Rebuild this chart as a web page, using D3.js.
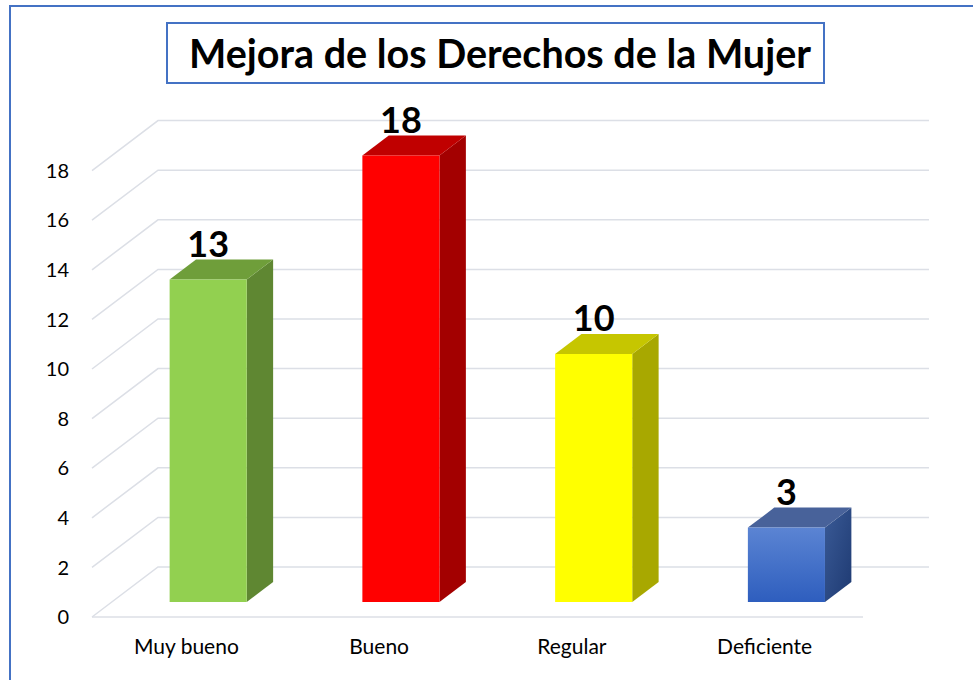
<!DOCTYPE html>
<html>
<head>
<meta charset="utf-8">
<script src="https://cdn.jsdelivr.net/npm/d3@7"></script>
<style>
  body { margin: 0; background: #fff; }
  svg { display: block; font-family: Lato, "Open Sans", sans-serif; }
</style>
</head>
<body>
<div id="chart"></div>
<script>
const categories = ["Muy bueno", "Bueno", "Regular", "Deficiente"];
const values = [13, 18, 10, 3];
const yTicks = [0, 2, 4, 6, 8, 10, 12, 14, 16, 18];
const titleText = "Mejora de los Derechos de la Mujer";

// front, side, top colours per bar
const faceColors = [
  {front: "#92D050", side: "#5F8732", top: "#6F9E3A"},
  {front: "#FF0000", side: "#A30000", top: "#C00000"},
  {front: "#FFFF00", side: "#A8A800", top: "#C6C600"},
  {front: "url(#blueFront)", side: "url(#blueSide)", top: "#48629A"}
];

const width = 973, height = 680;
const depthX = 66, depthY = 50;      // floor depth offsets
const barD0 = 0.3, barD1 = 0.7;      // bar depth span

const svg = d3.select("#chart").append("svg")
  .attr("width", width).attr("height", height);

const defs = svg.append("defs");
let g1 = defs.append("linearGradient").attr("id", "blueFront")
  .attr("x1", 0).attr("y1", 0).attr("x2", 0).attr("y2", 1);
g1.append("stop").attr("offset", "0%").attr("stop-color", "#5B84D3");
g1.append("stop").attr("offset", "100%").attr("stop-color", "#2E5EBE");
let g2 = defs.append("linearGradient").attr("id", "blueSide")
  .attr("x1", 0).attr("y1", 0).attr("x2", 1).attr("y2", 1);
g2.append("stop").attr("offset", "0%").attr("stop-color", "#3A5A96");
g2.append("stop").attr("offset", "100%").attr("stop-color", "#1E3A72");

// outer frame
svg.append("rect")
  .attr("x", 10).attr("y", 6)
  .attr("width", width + 20).attr("height", height + 20)
  .attr("fill", "none").attr("stroke", "#4472C4").attr("stroke-width", 2);

// title box
svg.append("rect")
  .attr("x", 167).attr("y", 23).attr("width", 657).attr("height", 60)
  .attr("fill", "#fff").attr("stroke", "#4472C4").attr("stroke-width", 2);
svg.append("text")
  .attr("x", 500).attr("y", 68)
  .attr("text-anchor", "middle")
  .style("font-size", "39.5px").style("font-weight", "bold")
  .attr("fill", "#000")
  .text(titleText);

const x = d3.scaleBand().domain(categories).range([92, 863]).padding(0);
const y = d3.scaleLinear().domain([0, 18]).range([617, 170.6]);

const proj = (px, py, d) => [px + d * depthX, py - d * depthY];
const backRight = 929;

// gridlines: left wall diagonal + back wall horizontal
const grid = svg.append("g").attr("class", "grid")
  .attr("fill", "none").attr("stroke", "#DCDFE6").attr("stroke-width", 1.5);
yTicks.forEach(v => {
  const p0 = [92, y(v)];
  const p1 = proj(92, y(v), 1);
  grid.append("path")
    .attr("d", d3.line()([p0, p1, [backRight, p1[1]]]));
});
// floor front edge
grid.append("line")
  .attr("x1", 92).attr("y1", y(0)).attr("x2", 863).attr("y2", y(0));

// y axis labels
svg.append("g").selectAll("text").data(yTicks).join("text")
  .attr("x", 69).attr("y", d => y(d))
  .attr("dy", "0.36em")
  .attr("text-anchor", "end")
  .style("font-size", "20px")
  .attr("fill", "#000")
  .text(d => d);

// category labels
svg.append("g").selectAll("text").data(categories).join("text")
  .attr("x", d => x(d) + x.bandwidth() / 2 - 2)
  .attr("y", 654)
  .attr("text-anchor", "middle")
  .style("font-size", "21px")
  .attr("fill", "#000")
  .text(d => d);

// bars
const bars = svg.append("g").attr("class", "bars");
const bw = x.bandwidth() * 0.4;
categories.forEach((c, i) => {
  const v = values[i];
  const xl = x(c) + (x.bandwidth() - bw) / 2;
  const xr = xl + bw;
  const yb = y(0), yt = y(v);
  const fbl = proj(xl, yb, barD0), fbr = proj(xr, yb, barD0);
  const ftl = proj(xl, yt, barD0), ftr = proj(xr, yt, barD0);
  const bbr = proj(xr, yb, barD1), btr = proj(xr, yt, barD1), btl = proj(xl, yt, barD1);
  const col = faceColors[i];
  const g = bars.append("g");
  g.append("path").attr("d", "M" + [fbr, bbr, btr, ftr].join("L") + "Z").attr("fill", col.side);
  g.append("path").attr("d", "M" + [ftl, ftr, btr, btl].join("L") + "Z").attr("fill", col.top);
  g.append("path").attr("d", "M" + [fbl, fbr, ftr, ftl].join("L") + "Z").attr("fill", col.front);

  // value label
  const cx = (xl + xr) / 2 + barD0 * depthX;
  g.append("text")
    .attr("x", cx).attr("y", btl[1] - 3)
    .attr("text-anchor", "middle")
    .style("font-size", "36px").style("font-weight", "bold")
    .attr("fill", "#000")
    .text(v);
});
</script>
</body>
</html>
